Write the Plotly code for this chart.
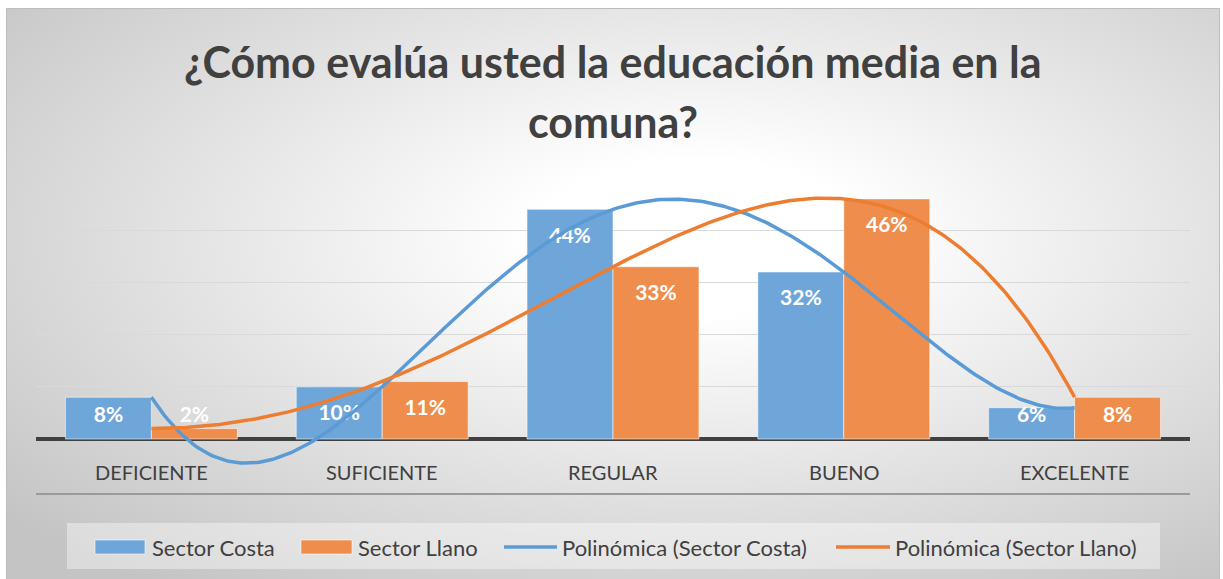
import base64
import numpy as np
import plotly.graph_objects as go

# ---- data ----
categories = ["DEFICIENTE", "SUFICIENTE", "REGULAR", "BUENO", "EXCELENTE"]
costa = [8, 10, 44, 32, 6]
llano = [2, 11, 33, 46, 8]
series_names = ["Sector Costa", "Sector Llano"]
trend_names = ["Polinómica (Sector Costa)", "Polinómica (Sector Llano)"]
title_lines = ["¿Cómo evalúa usted la educación media en la", "comuna?"]

# ---- styling ----
FONT = "Lato"
TEXT = "#404040"
BAR_BLUE, BAR_ORANGE = "#6FA6DA", "#EE8D4C"
LINE_BLUE, LINE_ORANGE = "#5B9BD5", "#ED7D31"

W, H = 1223, 579
L, R, T, B = 36, 1190, 178, 493          # plot area in pixels
Y_MIN, Y_MAX = -10.34, 50
BARGAP = 0.255
HALF = (1 - BARGAP) / 4                  # centre offset of each bar in a group


def fx(px):
    return (px - L) / (R - L)


def fy(py):
    return (B - py) / (B - T)


def yval(py):
    return Y_MAX - (py - T) / (B - T) * (Y_MAX - Y_MIN)


xs = np.arange(len(categories))

fig = go.Figure()

fig.add_bar(x=xs, y=costa, name=series_names[0], marker_color=BAR_BLUE,
            marker_line=dict(color="rgba(255,255,255,0.55)", width=1))
fig.add_bar(x=xs, y=llano, name=series_names[1], marker_color=BAR_ORANGE,
            marker_line=dict(color="rgba(255,255,255,0.55)", width=1))

# value labels sit a little below each bar top, never lower than the floor
lab_drop = 5.4
lab_floor = yval(417)
for vals, off in ((costa, -HALF), (llano, HALF)):
    fig.add_scatter(
        x=xs + off, y=[max(v - lab_drop, lab_floor) for v in vals],
        mode="text", text=[f"{v}%" for v in vals],
        textfont=dict(family=FONT, size=21, color="white", weight="bold"),
        showlegend=False, cliponaxis=False, hoverinfo="skip")

# 4th-order polynomial trendlines across the category positions
xt = np.linspace(0, len(categories) - 1, 300)
for vals, col in ((costa, LINE_BLUE), (llano, LINE_ORANGE)):
    coef = np.polyfit(xs, vals, 4)
    fig.add_scatter(x=xt, y=np.polyval(coef, xt), mode="lines",
                    line=dict(color=col, width=3.5), showlegend=False,
                    hoverinfo="skip")

# category labels
annotations = []
for i, c in enumerate(categories):
    annotations.append(dict(x=i, y=yval(472), xref="x", yref="y", text=c,
                            showarrow=False, font=dict(family=FONT, size=20, color=TEXT)))

# title
for txt, py in zip(title_lines, (61, 122)):
    annotations.append(dict(x=fx(613), y=fy(py), xref="paper", yref="paper",
                            text=f"<b>{txt}</b>", showarrow=False, yanchor="middle",
                            font=dict(family=FONT, size=43, color=TEXT)))

# legend
shapes = [dict(type="rect", xref="paper", yref="paper",
               x0=fx(67), x1=fx(1160), y0=fy(569), y1=fy(523),
               fillcolor="rgba(255,255,255,0.4)", line=dict(width=0), layer="below")]
leg_y = 547
legend_items = [
    ("rect", BAR_BLUE, 95, 145, series_names[0], 150),
    ("rect", BAR_ORANGE, 301, 352, series_names[1], 356),
    ("line", LINE_BLUE, 504, 557, trend_names[0], 560),
    ("line", LINE_ORANGE, 836, 890, trend_names[1], 893),
]
for kind, col, x0, x1, label, tx in legend_items:
    if kind == "rect":
        shapes.append(dict(type="rect", xref="paper", yref="paper",
                           x0=fx(x0), x1=fx(x1), y0=fy(leg_y + 7), y1=fy(leg_y - 7),
                           fillcolor=col, line=dict(color="rgba(255,255,255,0.55)", width=1)))
    else:
        shapes.append(dict(type="line", xref="paper", yref="paper",
                           x0=fx(x0), x1=fx(x1), y0=fy(leg_y), y1=fy(leg_y),
                           line=dict(color=col, width=3.5)))
    annotations.append(dict(x=fx(tx), y=fy(leg_y), xref="paper", yref="paper",
                            text=label, showarrow=False, xanchor="left", yanchor="middle",
                            font=dict(family=FONT, size=22, color=TEXT)))

# radial grey backdrop of the chart area
bx0, by0, bx1, by1 = 6, 8, 1220, 579
bw, bh = bx1 - bx0, by1 - by0
svg = (f'<svg xmlns="http://www.w3.org/2000/svg" width="{bw}" height="{bh}">'
       '<defs><radialGradient id="g" cx="0.57" cy="0.40" r="0.75">'
       '<stop offset="0.18" stop-color="#ffffff"/>'
       '<stop offset="1" stop-color="#c4c4c4"/></radialGradient></defs>'
       f'<rect x="0.5" y="0.5" width="{bw - 1}" height="{bh + 2}" fill="url(#g)" '
       'stroke="#bdbdbd" stroke-width="1"/></svg>')
src = "data:image/svg+xml;base64," + base64.b64encode(svg.encode()).decode()

fig.update_layout(
    width=W, height=H,
    margin=dict(l=L, r=W - R, t=T, b=H - B, pad=0),
    paper_bgcolor="white", plot_bgcolor="rgba(0,0,0,0)",
    barmode="group", bargap=BARGAP, bargroupgap=0,
    showlegend=False,
    annotations=annotations, shapes=shapes,
    images=[dict(source=src, xref="paper", yref="paper",
                 x=fx(bx0), y=fy(by0), sizex=bw / (R - L), sizey=bh / (B - T),
                 xanchor="left", yanchor="top", sizing="stretch", layer="below")],
    xaxis=dict(range=[-0.5, len(categories) - 0.5], showgrid=False, zeroline=False,
               showticklabels=False, ticks="", showline=True, linecolor="#9a9a9a",
               linewidth=1.5, fixedrange=True),
    yaxis=dict(range=[Y_MIN, Y_MAX], tickvals=[10, 20, 30, 40, 50], showgrid=True,
               gridcolor="#d9d9d9", gridwidth=1, showticklabels=False, ticks="",
               zeroline=True, zerolinecolor="#404040", zerolinewidth=4,
               showline=False, fixedrange=True),
)

fig.write_html("out.html")
